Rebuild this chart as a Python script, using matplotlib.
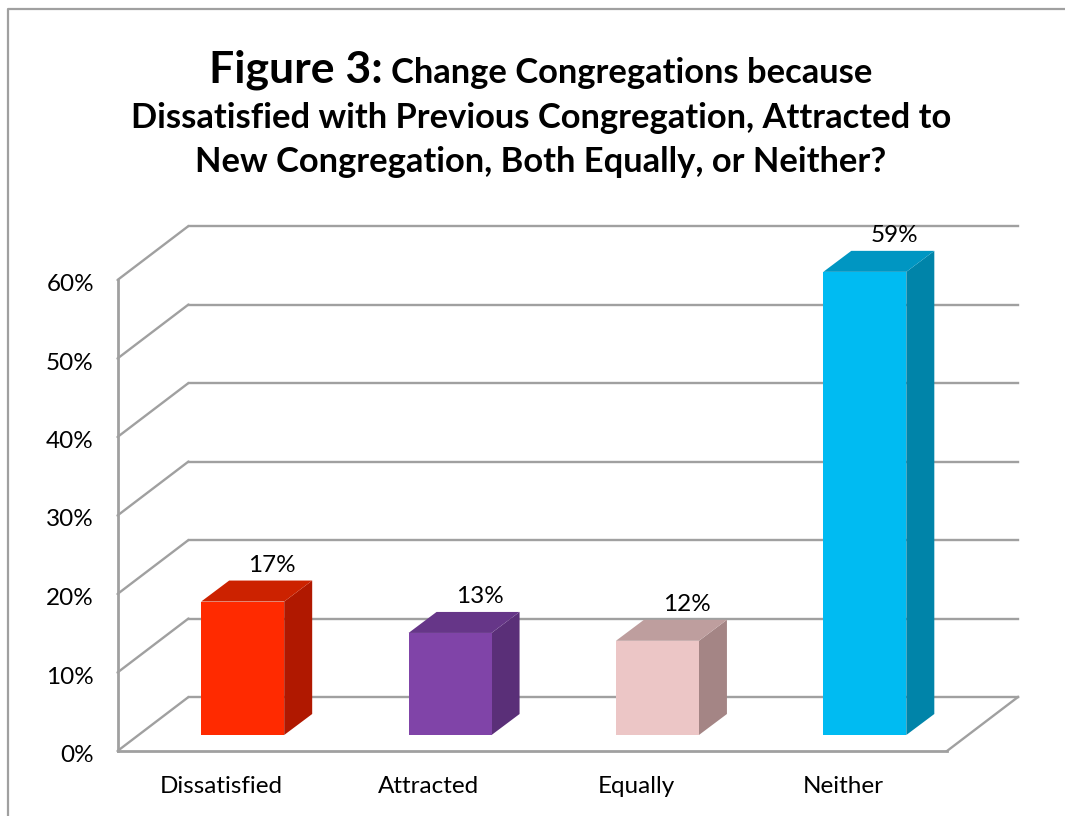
#!/usr/bin/env python
# coding: utf-8

import matplotlib
matplotlib.use('Agg')
import matplotlib.pyplot as plt
from matplotlib.lines import Line2D
from matplotlib.patches import Polygon
from matplotlib.transforms import ScaledTranslation

plt.rcParams['font.family'] = ['Lato', 'DejaVu Sans']

categories = ['Dissatisfied', 'Attracted', 'Equally', 'Neither']
values = [17, 13, 12, 59]
y_ticks = [0, 10, 20, 30, 40, 50, 60]

# front, top, side colours of each bar
front_colors = ['#FF2A00', '#8044A8', '#ECC6C6', '#00BBF2']
top_colors = ['#CC2200', '#663688', '#BE9E9E', '#0096C2']
side_colors = ['#B01800', '#5A2F78', '#A48585', '#0084A9']

W, H = 1065, 816
GRID = '#A0A0A0'

fig = plt.figure(figsize=(W / 100, H / 100), dpi=100)
ax = fig.add_axes([117.5 / W, (H - 751) / H, 829.5 / W, 471 / H])
ax.set_xlim(-0.5, 3.5)
ax.set_ylim(0, 60)
ax.patch.set_visible(False)

# pixels to data units
px_x = 4 / 829.5
px_y = 60 / 471

# depth of the back wall and of the bars
wall_dx, wall_dy = 71 * px_x, 54 * px_y
bar_dx, bar_dy = 28 * px_x, 21 * px_y
shift_x, shift_y = 21.5 * px_x, 16 * px_y
bar_w = 83 * px_x

# back wall gridlines and the diagonal on the left wall
for t in y_ticks:
    ax.plot([-0.5, -0.5 + wall_dx], [t, t + wall_dy], color=GRID, lw=1.7,
            clip_on=False, zorder=1, solid_capstyle='round')
    ax.plot([-0.5 + wall_dx, 3.5 + wall_dx], [t + wall_dy, t + wall_dy], color=GRID,
            lw=1.7, clip_on=False, zorder=1)

# right edge of the floor
ax.plot([3.5, 3.5 + wall_dx], [0, wall_dy], color=GRID, lw=1.7, clip_on=False, zorder=1)

for i in range(len(values)):
    x0 = i + shift_x - bar_w / 2
    x1 = x0 + bar_w
    y0 = shift_y
    # the bar stands on the floor, its height is read on the axis
    top = y0 + values[i]
    front = [(x0, y0), (x1, y0), (x1, top), (x0, top)]
    side = [(x1, y0), (x1 + bar_dx, y0 + bar_dy), (x1 + bar_dx, top + bar_dy), (x1, top)]
    roof = [(x0, top), (x1, top), (x1 + bar_dx, top + bar_dy), (x0 + bar_dx, top + bar_dy)]
    ax.add_patch(Polygon(side, facecolor=side_colors[i], edgecolor='none', zorder=3, clip_on=False))
    ax.add_patch(Polygon(roof, facecolor=top_colors[i], edgecolor='none', zorder=3, clip_on=False))
    ax.add_patch(Polygon(front, facecolor=front_colors[i], edgecolor='none', zorder=4, clip_on=False))
    ax.annotate(str(values[i]) + '%', (x0 + bar_w / 2 + bar_dx, top + bar_dy),
                xytext=(1, 11), textcoords='offset points', ha='center', va='center',
                fontsize=17.5, color='black', zorder=5, annotation_clip=False)

for s in ['top', 'right']:
    ax.spines[s].set_visible(False)
for s in ['left', 'bottom']:
    ax.spines[s].set_color(GRID)
    ax.spines[s].set_linewidth(2)
    ax.spines[s].set_zorder(2)

ax.set_yticks(y_ticks)
ax.set_yticklabels([str(t) + '%' for t in y_ticks], fontsize=17.5)
ax.set_xticks(range(len(categories)))
ax.set_xticklabels(categories, fontsize=17.5)
ax.tick_params(axis='y', length=0, pad=17)
ax.tick_params(axis='x', length=0, pad=18)

# the y labels sit a little under their gridline in the original
down = ScaledTranslation(0, -2.5 / 100, fig.dpi_scale_trans)
for label in ax.get_yticklabels():
    label.set_transform(label.get_transform() + down)

# title
fig.text(295.5 / W, 1 - 70 / H, 'Figure 3:', fontsize=32, fontweight='bold', ha='center', va='center')
fig.text(632 / W, 1 - 73 / H, 'Change Congregations because', fontsize=24.8, fontweight='bold',
         ha='center', va='center')
fig.text(541 / W, 1 - 118 / H, 'Dissatisfied with Previous Congregation, Attracted to', fontsize=24.8,
         fontweight='bold', ha='center', va='center')
fig.text(541 / W, 1 - 162 / H, 'New Congregation, Both Equally, or Neither?', fontsize=24.8,
         fontweight='bold', ha='center', va='center')

# chart area border, only top and left show
fig.add_artist(Line2D([8 / W, 8 / W, 1], [0, 1 - 8.5 / H, 1 - 8.5 / H], color='#A0A0A0', lw=1.6))

fig.savefig('out.png', dpi=100)
